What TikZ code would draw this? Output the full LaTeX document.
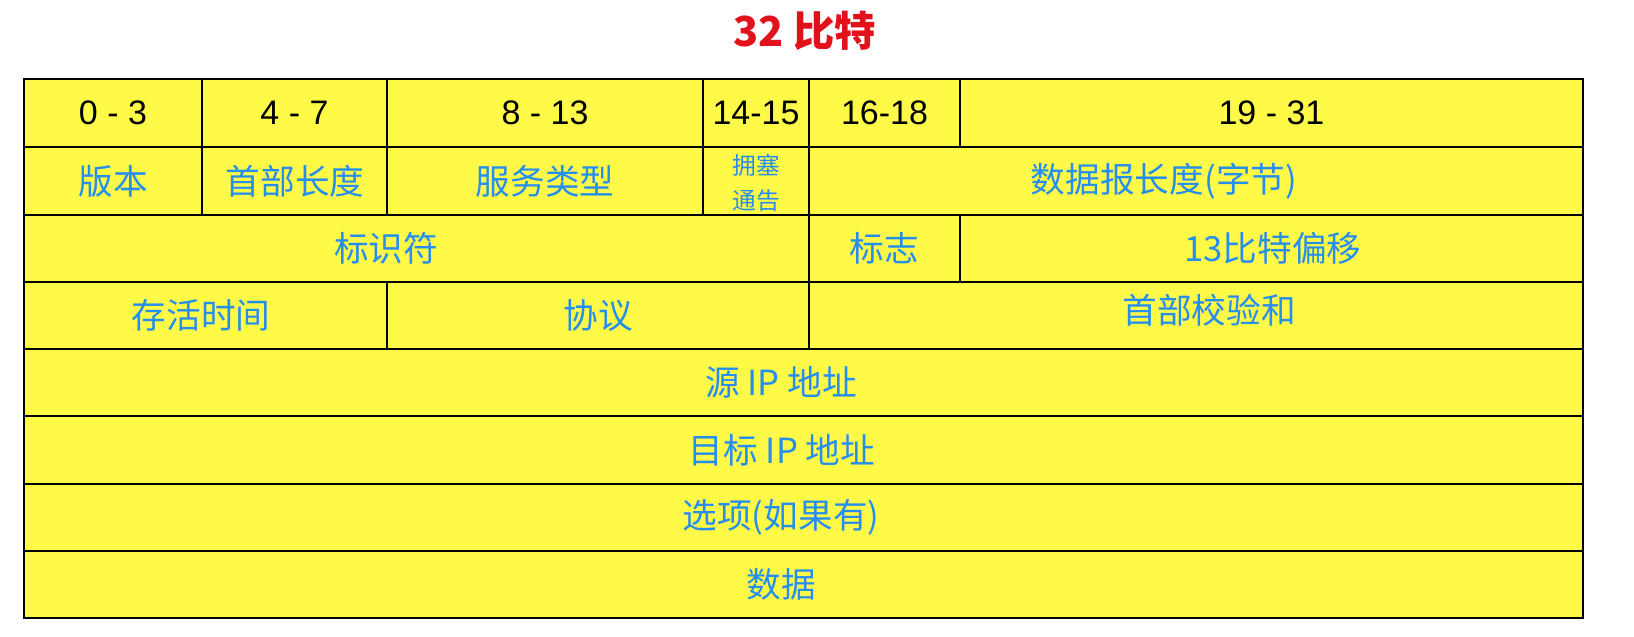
\documentclass[tikz,border=0pt]{standalone}
\usepackage{fontspec}
\setmainfont{Liberation Sans}
\newfontfamily\cjk{Noto Sans CJK SC}
\definecolor{cellyellow}{RGB}{255,250,72}
\definecolor{lblue}{RGB}{38,142,236}
\definecolor{tred}{RGB}{226,18,28}
\begin{document}
\begin{tikzpicture}[x=0.75pt,y=-0.75pt,
  gridline/.style={draw=black,line width=1.5pt},
  frame/.style={draw=black,line width=1.8pt,fill=cellyellow},
  hdr/.style={inner sep=0pt,text=black,font=\fontsize{25.5}{30}\selectfont},
  lbl/.style={inner sep=0pt,text=lblue,font=\cjk\fontsize{26}{30}\selectfont},
  smalllbl/.style={inner sep=0pt,text=lblue,align=center,font=\cjk\fontsize{17.8}{26.25}\selectfont},
  titlelbl/.style={inner sep=0pt,text=tred,font=\cjk\bfseries\fontsize{31}{36}\selectfont}]
\useasboundingbox (0,0) rectangle (1634,636);
% title
\node[titlelbl] (title) at (805,31) {32 比特};
% table background and frame
\path[frame] (24,79) rectangle (1583,618);
% horizontal lines
\foreach \yy in {147,214.5,282,349,416,483.5,551}
  \draw[gridline] (24,\yy) -- (1583,\yy);
% vertical lines row 1
\foreach \xx in {202,387,703,809,960}
  \draw[gridline] (\xx,79) -- (\xx,147);
% row 2
\foreach \xx in {202,387,703,809}
  \draw[gridline] (\xx,147) -- (\xx,214.5);
% row 3
\foreach \xx in {809,960}
  \draw[gridline] (\xx,214.5) -- (\xx,282);
% row 4
\foreach \xx in {387,809}
  \draw[gridline] (\xx,282) -- (\xx,349);
\path[draw=black,line width=1.8pt] (24,79) rectangle (1583,618);
% row 1 headers
\node[hdr] (h1) at (113,113) {0 - 3};
\node[hdr] (h2) at (294.5,113) {4 - 7};
\node[hdr] (h3) at (545,113) {8 - 13};
\node[hdr] (h4) at (756,113) {14-15};
\node[hdr] (h5) at (884.5,113) {16-18};
\node[hdr] (h6) at (1271.5,113) {19 - 31};
% row 2
\node[lbl] (ver) at (113,181) {版本};
\node[lbl] (ihl) at (295,181) {首部长度};
\node[lbl] (tos) at (545,181) {服务类型};
\node[smalllbl] (ecn) at (756,182.5) {拥塞\\通告};
\node[lbl] (len) at (1164,181) {数据报长度(字节)};
% row 3
\node[lbl] (ident) at (386,248) {标识符};
\node[lbl] (flags) at (884.5,248) {标志};
\node[lbl] (frag) at (1273,248) {13比特偏移};
% row 4
\node[lbl] (ttl) at (201,315) {存活时间};
\node[lbl] (proto) at (598,315) {协议};
\node[lbl] (csum) at (1209,310) {首部校验和};
% rows 5-8
\node[lbl] (src) at (781,382.5) {源 IP 地址};
\node[lbl] (dst) at (782,450) {目标 IP 地址};
\node[lbl] (opt) at (781,517) {选项(如果有)};
\node[lbl] (data) at (781,584.5) {数据};
\end{tikzpicture}
\end{document}
